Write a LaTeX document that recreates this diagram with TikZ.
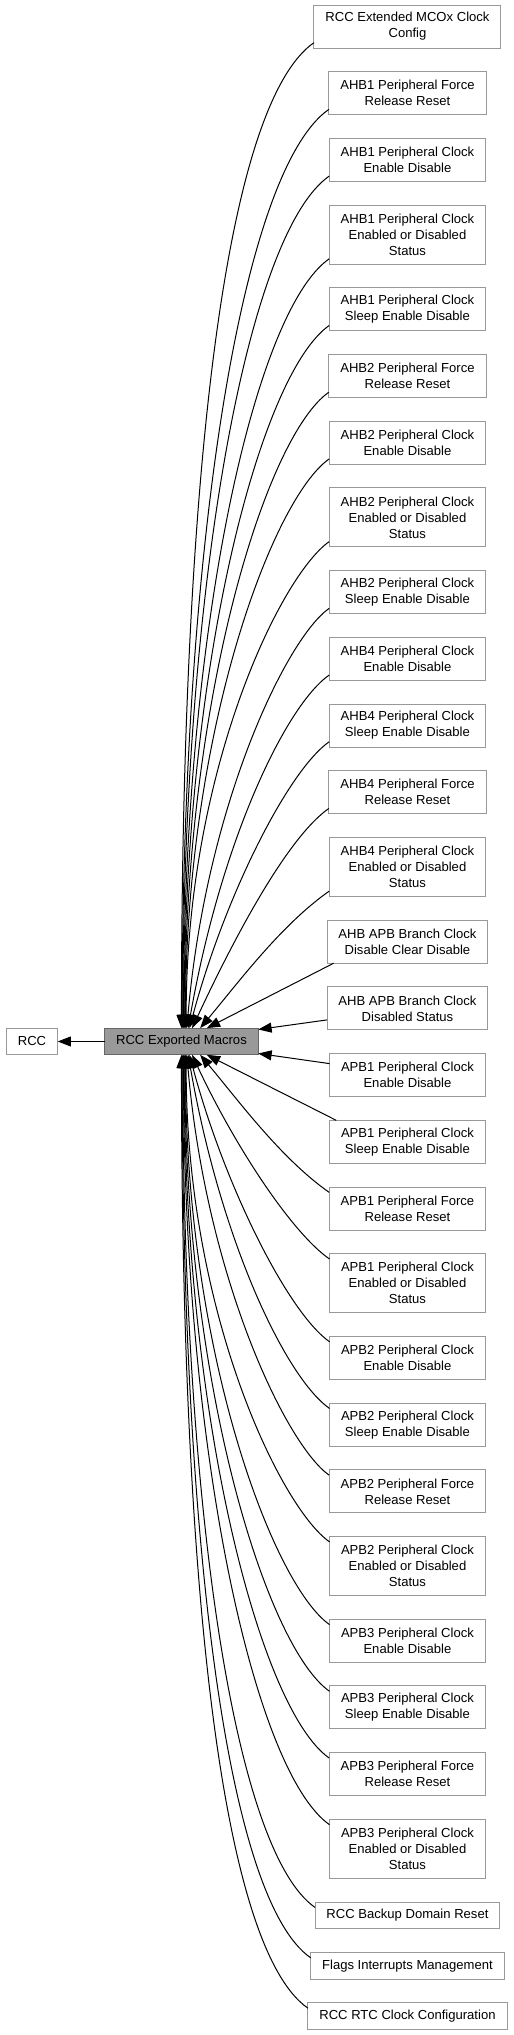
\documentclass[tikz,border=0pt]{standalone}
\usepackage{fontspec}
\setmainfont{Liberation Sans}
\usetikzlibrary{arrows.meta, positioning}
\definecolor{grey60}{HTML}{999999}
\definecolor{grey40}{HTML}{666666}

\begin{document}
\begin{tikzpicture}[->,>={Triangle[length=10pt,width=7.5pt]},line width=.75pt,node distance=17.78pt,
  grp/.style={draw=grey60, fill=white, align=center, font=\fontsize{9.8pt}{12pt}\selectfont, inner xsep=8.6pt, inner ysep=0pt, outer sep=0pt, minimum height=32.25pt},
  cur/.style={grp, draw=grey40, fill=grey60},
  oneline/.style={minimum height=20pt},
  threeline/.style={minimum height=44.25pt},
  intop/.style={out=215, in=90, out looseness=.3, in looseness=1.3},
  inbot/.style={out=145, in=270, out looseness=.3, in looseness=1.3}]
  \useasboundingbox (0,0) rectangle (385.5pt,-1526.25pt);

  \node[grp, anchor=north] (g1) at (305.6pt,-3.75pt) {RCC Extended MCOx Clock\\Config};
  \node[grp] (g2) [below=of g1] {AHB1 Peripheral Force\\Release Reset};
  \node[grp] (g3) [below=of g2] {AHB1 Peripheral Clock\\Enable Disable};
  \node[grp, threeline] (g4) [below=of g3] {AHB1 Peripheral Clock\\Enabled or Disabled\\Status};
  \node[grp] (g5) [below=of g4] {AHB1 Peripheral Clock\\Sleep Enable Disable};
  \node[grp] (g6) [below=of g5] {AHB2 Peripheral Force\\Release Reset};
  \node[grp] (g7) [below=of g6] {AHB2 Peripheral Clock\\Enable Disable};
  \node[grp, threeline] (g8) [below=of g7] {AHB2 Peripheral Clock\\Enabled or Disabled\\Status};
  \node[grp] (g9) [below=of g8] {AHB2 Peripheral Clock\\Sleep Enable Disable};
  \node[grp] (g10) [below=of g9] {AHB4 Peripheral Clock\\Enable Disable};
  \node[grp] (g11) [below=of g10] {AHB4 Peripheral Clock\\Sleep Enable Disable};
  \node[grp] (g12) [below=of g11] {AHB4 Peripheral Force\\Release Reset};
  \node[grp, threeline] (g13) [below=of g12] {AHB4 Peripheral Clock\\Enabled or Disabled\\Status};
  \node[grp] (g14) [below=of g13] {AHB APB Branch Clock\\Disable Clear Disable};
  \node[grp] (g15) [below=of g14] {AHB APB Branch Clock\\Disabled Status};
  \node[grp] (g16) [below=of g15] {APB1 Peripheral Clock\\Enable Disable};
  \node[grp] (g17) [below=of g16] {APB1 Peripheral Clock\\Sleep Enable Disable};
  \node[grp] (g18) [below=of g17] {APB1 Peripheral Force\\Release Reset};
  \node[grp, threeline] (g19) [below=of g18] {APB1 Peripheral Clock\\Enabled or Disabled\\Status};
  \node[grp] (g20) [below=of g19] {APB2 Peripheral Clock\\Enable Disable};
  \node[grp] (g21) [below=of g20] {APB2 Peripheral Clock\\Sleep Enable Disable};
  \node[grp] (g22) [below=of g21] {APB2 Peripheral Force\\Release Reset};
  \node[grp, threeline] (g23) [below=of g22] {APB2 Peripheral Clock\\Enabled or Disabled\\Status};
  \node[grp] (g24) [below=of g23] {APB3 Peripheral Clock\\Enable Disable};
  \node[grp] (g25) [below=of g24] {APB3 Peripheral Clock\\Sleep Enable Disable};
  \node[grp] (g26) [below=of g25] {APB3 Peripheral Force\\Release Reset};
  \node[grp, threeline] (g27) [below=of g26] {APB3 Peripheral Clock\\Enabled or Disabled\\Status};
  \node[grp, oneline] (g28) [below=of g27] {RCC Backup Domain Reset};
  \node[grp, oneline] (g29) [below=of g28] {Flags Interrupts Management};
  \node[grp, oneline] (g30) [below=of g29] {RCC RTC Clock Configuration};

  \node[cur, oneline] (macros) at (136.1pt,-781.1pt) {RCC Exported Macros};
  \node[grp, oneline] (rcc) [left=35.25pt of macros] {RCC};

  \draw (macros) -- (rcc);
  % groups above the macros node
  \draw ([yshift=4pt]g1.south west) to[intop] (macros.north);
  \draw ([yshift=4pt]g2.south west) to[intop] ([xshift=.5pt]macros.north);
  \draw ([yshift=4pt]g3.south west) to[intop] ([xshift=1pt]macros.north);
  \draw ([yshift=4pt]g4.south west) to[intop] ([xshift=1.5pt]macros.north);
  \draw ([yshift=4pt]g5.south west) to[intop] ([xshift=2pt]macros.north);
  \draw ([yshift=4pt]g6.south west) to[intop] ([xshift=2.5pt]macros.north);
  \draw ([yshift=4pt]g7.south west) to[intop] ([xshift=3pt]macros.north);
  \draw ([yshift=4pt]g8.south west) to[intop] ([xshift=3.5pt]macros.north);
  \draw ([yshift=4pt]g9.south west) to[intop, in=85] ([xshift=4pt]macros.north);
  \draw ([yshift=4pt]g10.south west) to[intop, in=80, out looseness=.35] ([xshift=5pt]macros.north);
  \draw ([yshift=4pt]g11.south west) to[intop, in=75, out looseness=.4, in looseness=1.1] ([xshift=6pt]macros.north);
  \draw ([yshift=4pt]g12.south west) to[intop, in=65, out looseness=.5, in looseness=1] ([xshift=8pt]macros.north);
  \draw ([yshift=4pt]g13.south west) to[intop, in=50, out looseness=.8, in looseness=.8] ([xshift=14pt]macros.north);
  \draw ([xshift=5pt]g14.south west) -- ([xshift=19pt]macros.north);
  \draw ([yshift=7.5pt]g15.south west) -- ([yshift=-1pt]macros.north east);
  % groups below the macros node
  \draw ([yshift=-7.5pt]g16.north west) -- ([yshift=1pt]macros.south east);
  \draw ([xshift=5pt]g17.north west) -- ([xshift=19pt]macros.south);
  \draw ([yshift=-4pt]g18.north west) to[inbot, in=310, out looseness=.8, in looseness=.8] ([xshift=14pt]macros.south);
  \draw ([yshift=-4pt]g19.north west) to[inbot, in=295, out looseness=.5, in looseness=1] ([xshift=8pt]macros.south);
  \draw ([yshift=-4pt]g20.north west) to[inbot, in=285, out looseness=.4, in looseness=1.1] ([xshift=6pt]macros.south);
  \draw ([yshift=-4pt]g21.north west) to[inbot, in=280, out looseness=.35] ([xshift=5pt]macros.south);
  \draw ([yshift=-4pt]g22.north west) to[inbot, in=275] ([xshift=4pt]macros.south);
  \draw ([yshift=-4pt]g23.north west) to[inbot] ([xshift=3.5pt]macros.south);
  \draw ([yshift=-4pt]g24.north west) to[inbot] ([xshift=3pt]macros.south);
  \draw ([yshift=-4pt]g25.north west) to[inbot] ([xshift=2.5pt]macros.south);
  \draw ([yshift=-4pt]g26.north west) to[inbot] ([xshift=2pt]macros.south);
  \draw ([yshift=-4pt]g27.north west) to[inbot] ([xshift=1.5pt]macros.south);
  \draw ([yshift=-4pt]g28.north west) to[inbot] ([xshift=1pt]macros.south);
  \draw ([yshift=-4pt]g29.north west) to[inbot] ([xshift=.5pt]macros.south);
  \draw ([yshift=-4pt]g30.north west) to[inbot] (macros.south);
\end{tikzpicture}
\end{document}
